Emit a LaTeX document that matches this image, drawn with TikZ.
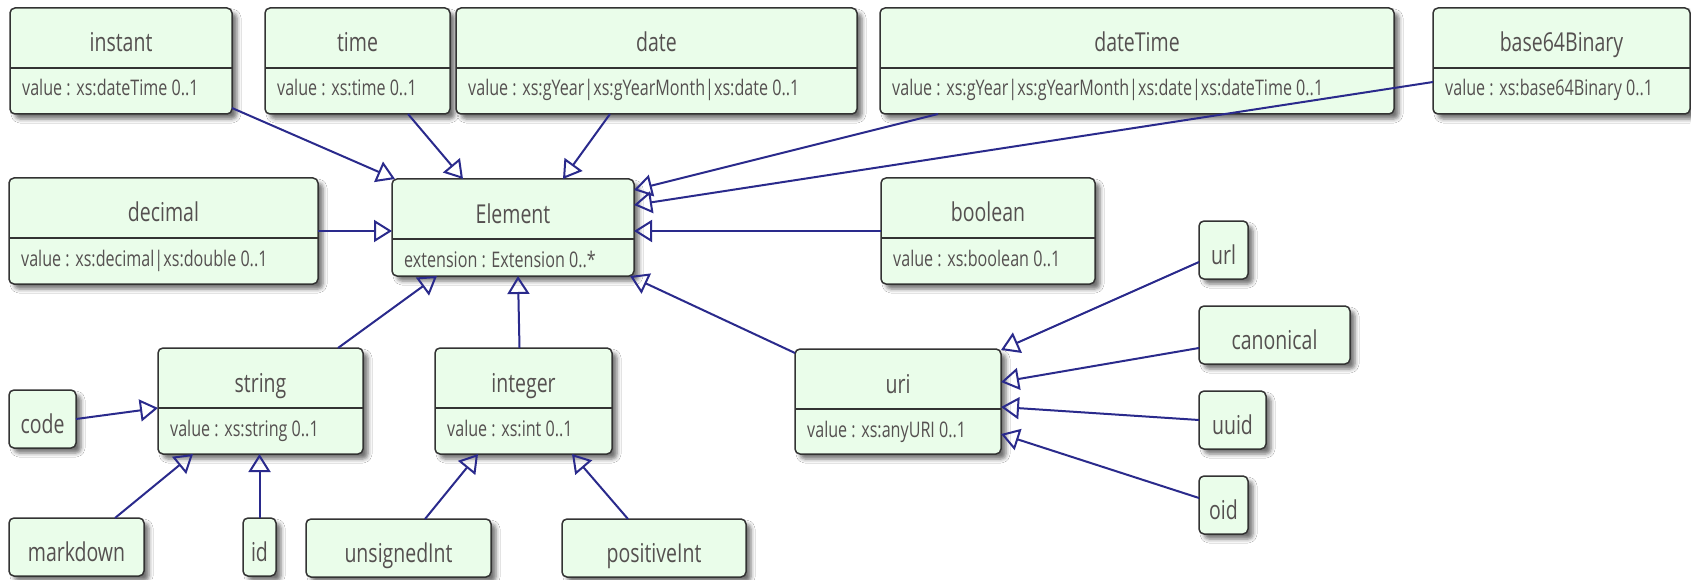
\documentclass[tikz,border=0pt]{standalone}
\usepackage{fontspec}
\setmainfont{Open Sans}[FakeStretch=0.75]
\usepackage{tikz}
\usetikzlibrary{positioning,arrows.meta,shadows.blur}
\definecolor{boxfill}{HTML}{EAFDEA}
\definecolor{boxline}{HTML}{333333}
\definecolor{linkblue}{HTML}{2A2A8C}
\definecolor{labelgray}{HTML}{555050}

\begin{document}
\begin{tikzpicture}[x=1pt, y=-1pt,
  classbox/.style={draw=boxline, fill=boxfill, line width=1.5pt, rounded corners=5pt,
    blur shadow={shadow xshift=5pt, shadow yshift=-5pt, shadow blur radius=4pt, shadow opacity=55},
    inner sep=0pt, outer sep=0pt},
  divider/.style={draw=boxline, line width=1.2pt},
  titletext/.style={font=\fontsize{26}{30}\selectfont, text=labelgray, anchor=base, inner sep=0pt},
  attrtext/.style={font=\fontsize{21.5}{24}\selectfont, text=labelgray, anchor=base west, inner sep=0pt},
  isa/.style={draw=linkblue, line width=2pt, -{Triangle[open, length=18pt, width=22pt]}},
]
\useasboundingbox (0,0) rectangle (1691,580);
\fill[white] (0,0) rectangle (1691,580);

% ---------- classes with an attribute part (pixel coords, y down) ----------
\foreach \nm/\xl/\xr/\yt/\bh/\ttl/\att in {%
  instant/10/232/8/106/{instant}/{value : xs:dateTime 0..1},
  time/265/450/8/106/{time}/{value : xs:time 0..1},
  date/456/857/8/106/{date}/{value : xs:gYear|xs:gYearMonth|xs:date 0..1},
  datetime/880/1394/8/106/{dateTime}/{value : xs:gYear|xs:gYearMonth|xs:date|xs:dateTime 0..1},
  base64/1433/1690/8/106/{base64Binary}/{value : xs:base64Binary 0..1},
  decimal/9/318/178/106/{decimal}/{value : xs:decimal|xs:double 0..1},
  element/392/634/179/97/{Element}/{extension : Extension 0..*},
  boolean/881/1095/178/106/{boolean}/{value : xs:boolean 0..1},
  string/158/363/348/106/{string}/{value : xs:string 0..1},
  integer/435/612/348/106/{integer}/{value : xs:int 0..1},
  uri/795/1001/349/105/{uri}/{value : xs:anyURI 0..1}%
} {
  \pgfmathsetmacro{\bw}{\xr-\xl}
  \pgfmathsetmacro{\cx}{(\xl+\xr)/2}
  \pgfmathsetmacro{\cy}{\yt+\bh/2}
  \node[classbox, minimum width=\bw pt, minimum height=\bh pt] (\nm) at (\cx,\cy) {};
  \draw[divider] (\xl,\yt+60) -- (\xr,\yt+60);
  \node[titletext] (\nm-title) at (\cx,\yt+44) {\ttl};
  \node[attrtext] (\nm-attr) at (\xl+12,\yt+88) {\att};
}

% ---------- plain boxes (name only) ----------
\foreach \nm/\xl/\xr/\yt/\ttl in {%
  code/9/76/390/{code},
  markdown/9/144/518/{markdown},
  id/243/276/518/{id},
  unsignedint/306/491/519/{unsignedInt},
  positiveint/562/746/519/{positiveInt},
  url/1199/1248/221/{url},
  canonical/1199/1350/306/{canonical},
  uuid/1199/1266/391/{uuid},
  oid/1199/1248/476/{oid}%
} {
  \pgfmathsetmacro{\bw}{\xr-\xl}
  \pgfmathsetmacro{\cx}{(\xl+\xr)/2}
  \node[classbox, minimum width=\bw pt, minimum height=58pt] (\nm) at (\cx,\yt+29) {};
  \node[titletext] (\nm-title) at (\cx,\yt+43) {\ttl};
}

% ---------- generalisations into Element ----------
\draw[isa] ([yshift=6pt]instant.south east) -- ([xshift=3pt]element.north west);
\draw[isa] ([xshift=-42pt]time.south east) -- ([xshift=71pt]element.north west);
\draw[isa] ([xshift=154pt]date.south west) -- ([xshift=-71pt]element.north east);
\draw[isa] ([xshift=58pt]datetime.south west) -- ([yshift=-11pt]element.north east);
\draw[isa] ([yshift=-21pt]base64.west) -- ([yshift=-26pt]element.north east);
\draw[isa] (decimal.east) -- (decimal.east -| element.west);
\draw[isa] (boolean.west) -- (boolean.west -| element.east);
\draw[isa] ([xshift=-25pt]string.north east) -- ([xshift=45pt]element.south west);
\draw[isa] ([xshift=-4pt]integer.north) -- ([xshift=5pt]element.south);
\draw[isa] ([yshift=-4pt]uri.north west) -- ([xshift=-4pt]element.south east);

% ---------- string / integer / uri children ----------
\draw[isa] (code.east) -- ([yshift=-60pt]string.north west);
\draw[isa] ([xshift=-29pt]markdown.north east) -- ([xshift=35pt]string.south west);
\draw[isa] (id.north) -- (id.north |- string.south);
\draw[isa] ([xshift=-66pt]unsignedint.north east) -- ([xshift=43pt]integer.south west);
\draw[isa] ([xshift=66pt]positiveint.north west) -- ([xshift=-40pt]integer.south east);
\draw[isa] ([yshift=-12pt]url.west) -- ([yshift=-1pt]uri.north east);
\draw[isa] ([yshift=-13pt]canonical.west) -- ([yshift=-33pt]uri.north east);
\draw[isa] (uuid.west) -- ([yshift=-58pt]uri.north east);
\draw[isa] ([yshift=7pt]oid.west) -- ([yshift=-85pt]uri.north east);
\end{tikzpicture}
\end{document}
